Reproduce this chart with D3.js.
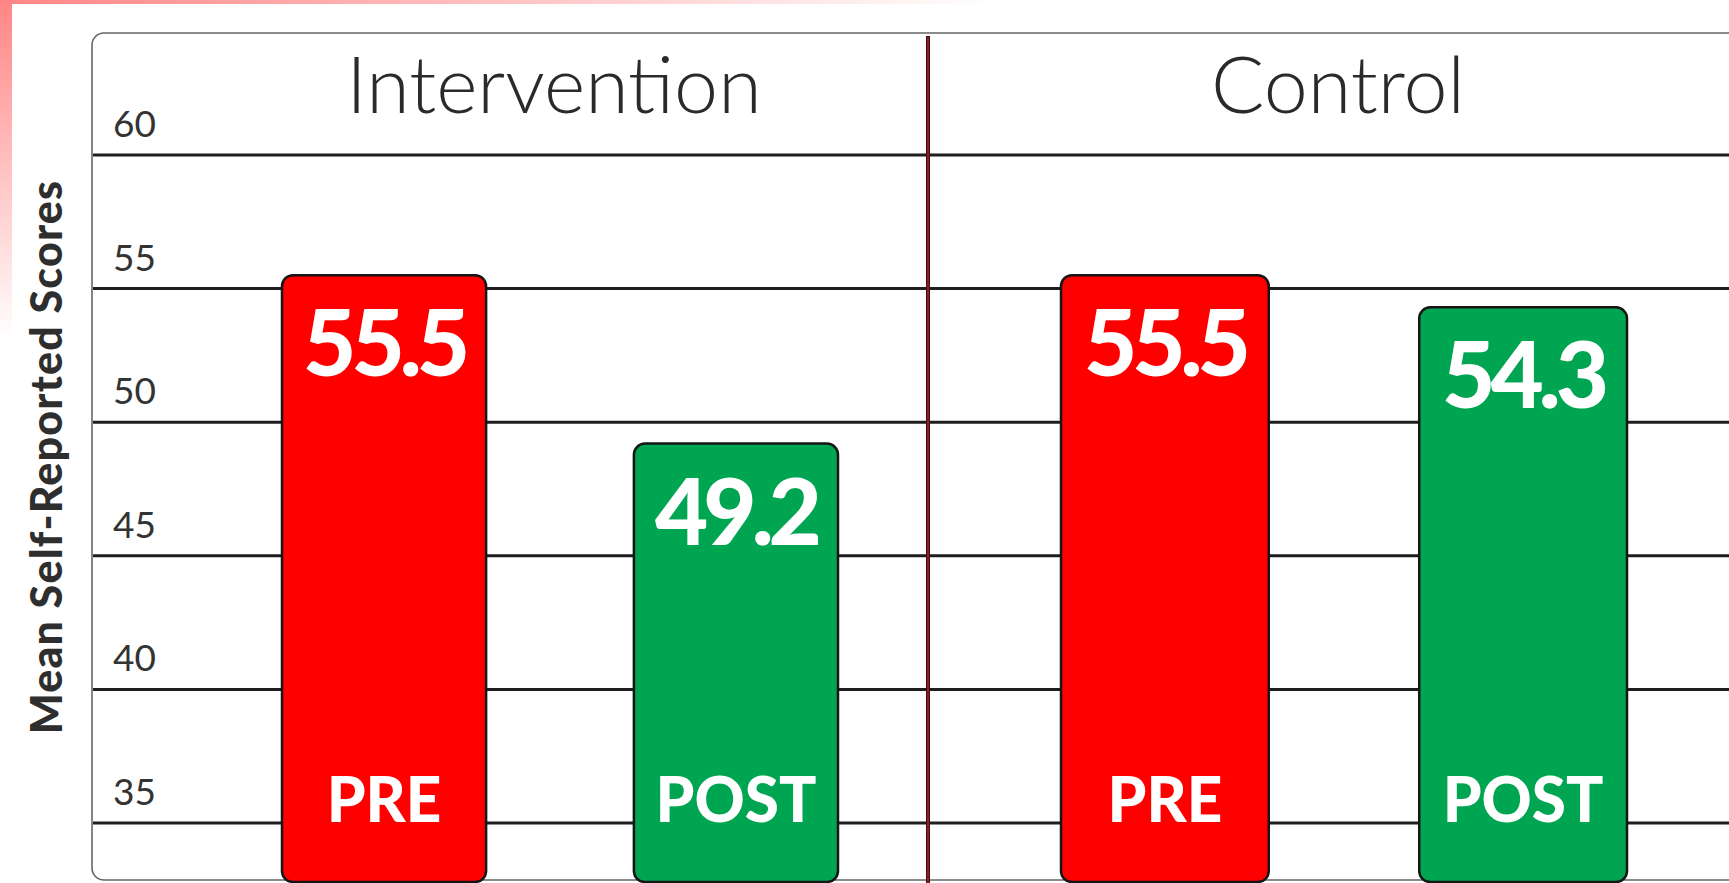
<!DOCTYPE html>
<html>
<head>
<meta charset="utf-8">
<title>Mean Self-Reported Scores</title>
<script src="https://cdn.jsdelivr.net/npm/d3@7"></script>
<style>
  html, body { margin: 0; padding: 0; background: #fff; }
  svg { display: block; }
  .tick-label { font-family: Lato, "Open Sans", sans-serif; font-weight: 400; font-size: 37px; fill: #333; }
  .panel-title { font-family: Lato, "Open Sans", sans-serif; font-weight: 300; font-size: 79px; fill: #2a2a2a; }
  .value-label { font-family: Lato, sans-serif; font-weight: 900; font-size: 92px; fill: #fff; letter-spacing: -5px; }
  .phase-label { font-family: Lato, sans-serif; font-weight: 900; font-size: 62px; fill: #fff; }
  .y-title { font-family: Lato, sans-serif; font-weight: 900; font-size: 43px; fill: #2e2e2e; letter-spacing: 1.2px; }
</style>
</head>
<body>
<script>
// data
var groups = ["Intervention", "Control"];
var phases = ["PRE", "POST"];
var interventionScores = [55.5, 49.2];
var controlScores = [55.5, 54.3];
var yTicks = [35, 40, 45, 50, 55, 60];
var yTitle = "Mean Self-Reported Scores";

var scores = { "Intervention": interventionScores, "Control": controlScores };
var phaseColor = { "PRE": "#ff0000", "POST": "#00a551" };

var W = 1729, H = 883;
var boxLeft = 92, boxTop = 33, plotBottom = 882;
// where the bar pair starts inside each panel
var barStart = { "Intervention": 190, "Control": 133 };
var pairWidth = { "Intervention": 556, "Control": 566 };

var svg = d3.select("body").append("svg")
    .attr("width", W).attr("height", H);

// pink frame gradients
var defs = svg.append("defs");
var gl = defs.append("linearGradient").attr("id", "leftFade")
    .attr("x1", 0).attr("y1", 0).attr("x2", 0).attr("y2", 1);
gl.append("stop").attr("offset", "0%").attr("stop-color", "#ff8585");
gl.append("stop").attr("offset", "100%").attr("stop-color", "#ffffff");
var gt = defs.append("linearGradient").attr("id", "topFade")
    .attr("x1", 0).attr("y1", 0).attr("x2", 1).attr("y2", 0);
gt.append("stop").attr("offset", "0%").attr("stop-color", "#ff8585");
gt.append("stop").attr("offset", "100%").attr("stop-color", "#ffffff");

svg.append("rect").attr("x", 0).attr("y", 0).attr("width", 12).attr("height", 340)
    .attr("fill", "url(#leftFade)");
svg.append("rect").attr("x", 0).attr("y", 0).attr("width", 1000).attr("height", 4)
    .attr("fill", "url(#topFade)");

// scales
var y = d3.scaleLinear().domain([35, 60]).range([823, 155]);
var yFloor = y.invert(plotBottom);

var xPanel = d3.scaleBand().domain(groups).range([boxLeft, boxLeft + 2 * 836]);
function xPhase(g){
  return d3.scaleBand().domain(phases).range([0, pairWidth[g]]).paddingInner(0.42).paddingOuter(0);
}

// outer box
svg.append("rect")
    .attr("x", boxLeft).attr("y", boxTop)
    .attr("width", W + 60 - boxLeft).attr("height", 880 - boxTop)
    .attr("rx", 12).attr("ry", 12)
    .attr("fill", "#fff").attr("stroke", "#666").attr("stroke-width", 1.6);

// grid lines
svg.selectAll(".grid")
    .data(yTicks)
    .enter()
    .append("line")
    .attr("class", "grid")
    .attr("x1", boxLeft + 1).attr("x2", W)
    .attr("y1", function(d){ return y(d); })
    .attr("y2", function(d){ return y(d); })
    .attr("stroke", "#1e1e1e").attr("stroke-width", 3);

// tick labels
svg.selectAll(".tick-label")
    .data(yTicks)
    .enter()
    .append("text")
    .attr("class", "tick-label")
    .attr("x", 113)
    .attr("y", function(d){ return y(d) - 18; })
    .text(function(d){ return d; });

// panel divider (red line with dark edges)
var divX = xPanel("Control");
svg.append("line").attr("x1", divX).attr("x2", divX).attr("y1", 36).attr("y2", H)
    .attr("stroke", "#2a1a1a").attr("stroke-width", 4);
svg.append("line").attr("x1", divX).attr("x2", divX).attr("y1", 37).attr("y2", H)
    .attr("stroke", "#d01010").attr("stroke-width", 1.6);

// bars
var bars = [];
groups.forEach(function(g){
  phases.forEach(function(p, i){
    bars.push({ group: g, phase: p, value: scores[g][i] });
  });
});

function barX(d){ return xPanel(d.group) + barStart[d.group] + xPhase(d.group)(d.phase); }
function barW(d){ return xPhase(d.group).bandwidth(); }

var barG = svg.selectAll(".bar")
    .data(bars)
    .enter()
    .append("g")
    .attr("class", "bar");

barG.append("rect")
    .attr("x", barX)
    .attr("y", function(d){ return y(d.value); })
    .attr("width", barW)
    .attr("height", function(d){ return y(yFloor) - y(d.value); })
    .attr("rx", 11).attr("ry", 11)
    .attr("fill", function(d){ return phaseColor[d.phase]; })
    .attr("stroke", "#151515").attr("stroke-width", 2.5);

barG.append("text")
    .attr("class", "value-label")
    .attr("text-anchor", "middle")
    .attr("x", function(d){ return barX(d) + barW(d) / 2; })
    .attr("y", function(d){ return y(d.value) + 101; })
    .text(function(d){ return d.value.toFixed(1); });

barG.append("text")
    .attr("class", "phase-label")
    .attr("text-anchor", "middle")
    .attr("x", function(d){ return barX(d) + barW(d) / 2; })
    .attr("y", y(35) - 1)
    .text(function(d){ return d.phase; });

// panel titles, centred over each pair of bars
svg.selectAll(".panel-title")
    .data(groups)
    .enter()
    .append("text")
    .attr("class", "panel-title")
    .attr("text-anchor", "middle")
    .attr("x", function(g){ return xPanel(g) + barStart[g] + pairWidth[g] / 2 - 6; })
    .attr("y", 113)
    .text(function(g){ return g; });

// y axis title
svg.append("text")
    .attr("class", "y-title")
    .attr("text-anchor", "middle")
    .attr("transform", "translate(62," + 457 + ") rotate(-90)")
    .text(yTitle);
</script>
</body>
</html>
